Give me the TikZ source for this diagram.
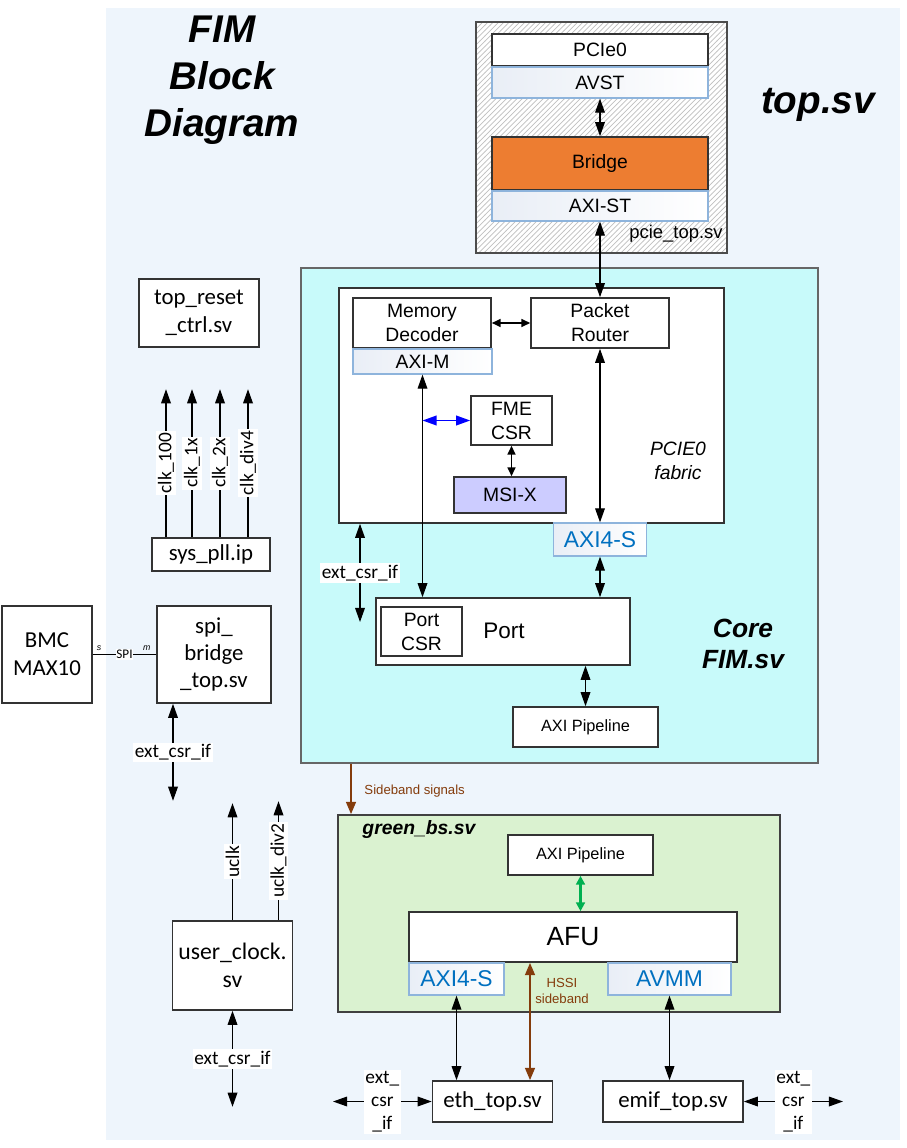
\documentclass[tikz,border=0pt]{standalone}
\usepackage{fontspec}
\setmainfont{Liberation Sans}
\newfontfamily\calf{Carlito}
\usepackage{xcolor}
\usetikzlibrary{arrows.meta,patterns}

\definecolor{bgblue}{HTML}{EEF5FC}
\definecolor{corecyan}{HTML}{C8FAFA}
\definecolor{bsgreen}{HTML}{DAF2D0}
\definecolor{bridgeorange}{HTML}{ED7D31}
\definecolor{msilav}{HTML}{CCCCFF}
\definecolor{ifedge}{HTML}{8EB4DC}
\definecolor{ifshade}{HTML}{E9EEF6}
\definecolor{ifblue}{HTML}{0070C0}
\definecolor{sbbrown}{HTML}{843C0C}
\definecolor{afugreen}{HTML}{00B050}

\newcommand{\fs}[2]{\fontsize{#1}{#2}\selectfont}

\tikzset{
  sz/.style 2 args={minimum width=#1*0.02cm, minimum height=#2*0.02cm},
  blk/.style={draw=black!80, line width=0.9pt, fill=white, inner sep=0pt, align=center, font=\fs{11}{13.6}},
  cblk/.style={blk, font=\calf\fs{13}{16}},
  ifbox/.style={draw=ifedge, line width=0.7pt, left color=ifshade, right color=white, inner sep=0pt, font=\fs{11}{13}},
  ifbig/.style={ifbox, text=ifblue, font=\fs{13}{15}},
  hatch/.style={draw=black!70, line width=0.9pt, preaction={fill=white}, pattern=north east lines, pattern color=black!25, inner sep=0pt},
  ttl/.style={align=center, font=\bfseries\itshape\fs{22}{26.6}},
  lbl/.style={fill=white, inner sep=1pt, font=\calf\fs{11}{13}},
  clk/.style={lbl, rotate=90},
  sb/.style={draw=sbbrown, line width=1.3pt, >={Triangle[length=7pt,width=5.5pt]}},
  sbtxt/.style={text=sbbrown, font=\fs{7.5}{9.6}, align=center}
}

\begin{document}
\begin{tikzpicture}[x=0.02cm, y=-0.02cm, >={Triangle[length=8pt,width=5.5pt]}, line width=0.7pt]
\useasboundingbox (0,0) rectangle (906,1148);
\fill[bgblue] (106,8) rectangle (900,1140);

\node[ttl] (title) at (222,80) {FIM\\Block\\Diagram};
\node[ttl] (topsv) at (818,105) {top.sv};

\node[hatch, sz={251}{231}] (pcietop) at (601.5,137.5) {};
\node[font=\fs{10.5}{12}] (pcietoplbl) at (676,234) {pcie\_top.sv};
\node[blk, sz={216}{32}] (pcie0) at (600,50) {PCIe0};
\node[ifbox, sz={216}{31}] (avst) at (600,82.5) {AVST};
\node[blk, fill=bridgeorange, sz={216}{53}] (bridge) at (600,163.5) {Bridge};
\node[ifbox, sz={216}{30}] (axist) at (600,206) {AXI-ST};

\node[draw=black!60, line width=0.9pt, fill=corecyan, sz={517}{495}] (core) at (559.5,515.5) {};
\node[blk, sz={385}{235}] (fabric) at (531.5,405.5) {};
\node[blk, sz={138}{50}] (memdec) at (422,323) {Memory\\Decoder};
\node[ifbox, sz={139}{25}] (axim) at (422.5,361.5) {AXI-M};
\node[blk, sz={138}{50}] (router) at (600,323) {Packet\\Router};
\node[blk, sz={81}{49}] (fme) at (511.5,420.5) {FME\\CSR};
\node[blk, fill=msilav, sz={112}{36}] (msix) at (510,495) {MSI-X};
\node[align=center, font=\itshape\fs{11}{13.6}] (fabriclbl) at (678,461) {PCIE0\\fabric};
\node[ifbig, sz={93}{33}] (axi4s) at (600,539.5) {AXI4-S};
\node[blk, sz={254}{67}] (port) at (503,631.5) {};
\node[blk, sz={81}{49}] (portcsr) at (421.5,631.5) {Port\\CSR};
\node[font=\fs{12.8}{14}] (porttxt) at (504,631) {Port};
\node[blk, font=\fs{9.3}{11}, sz={145}{40}] (pipe1) at (585.5,727) {AXI Pipeline};
\node[align=center, font=\bfseries\itshape\fs{15}{18}] (corelbl) at (743,644) {Core\\FIM.sv};

\node[cblk, sz={120}{68}] (rst) at (199,313) {top\_reset\\\_ctrl.sv};
\node[cblk, sz={118}{33}] (pll) at (211,554.5) {sys\_pll.ip};
\node[cblk, sz={90}{97}] (bmc) at (47,654.5) {BMC\\MAX10};
\node[cblk, font=\calf\fs{13}{15.5}, sz={114}{97}] (spi) at (214,654.5) {spi\_\\bridge\\\_top.sv};
\node[cblk, font=\calf\fs{13.5}{16}, sz={120}{89}] (ucl) at (232.5,965.5) {user\_clock.\\sv};

\node[draw=black!75, line width=0.9pt, fill=bsgreen, sz={442}{197}] (green) at (559,913.5) {};
\node[anchor=west, font=\bfseries\itshape\fs{11}{13}] (greenlbl) at (356,829) {green\_bs.sv};
\node[blk, font=\fs{9.3}{11}, sz={145}{40}] (pipe2) at (580.5,855) {AXI Pipeline};
\node[blk, font=\fs{15}{17}, sz={328}{50}] (afu) at (573,937) {AFU};
\node[ifbig, sz={95}{32}] (axisg) at (456.5,979) {AXI4-S};
\node[ifbig, sz={123}{32}] (avmm) at (669.5,979) {AVMM};
\node[sbtxt] (hssilbl) at (562,991) {HSSI\\sideband};

\node[cblk, sz={120}{41}] (eth) at (492.5,1101.5) {eth\_top.sv};
\node[cblk, sz={140}{41}] (emif) at (673,1101.5) {emif\_top.sv};

\coordinate (csrport) at (360,622);
\coordinate (sbx) at (351,790);
\coordinate (hssix) at (530,1040);
\coordinate (ethx) at (333,1101.5);
\coordinate (emifx) at (843,1101.5);

\draw[<->] (avst) -- (bridge);
\draw[<->] (axist) -- (router);
\draw[<->, >={Triangle[length=5pt,width=4.5pt]}, line width=1pt] (memdec) -- (router);
\draw[<->] (axim.south) -- (axim.south |- port.north);
\draw[<->, blue, line width=0.9pt] (axim.south |- fme.west) -- (fme.west);
\draw[<->, >={Triangle[length=5pt,width=4.5pt]}, line width=1pt] (fme.south) -- (fme.south |- msix.north);
\draw[<->] (router) -- (axi4s);
\draw[<->] (axi4s.south) -- (axi4s.south |- port.north);
\draw[<->] (pipe1.north |- port.south) -- (pipe1.north);
\draw[<->] (csrport |- fabric.south) -- (csrport) node[midway, lbl] {ext\_csr\_if};

\foreach \dx/\name in {-45/clk\_100, -19/clk\_1x, 9/clk\_2x, 37/clk\_div4}
  \draw[->] ([xshift=\dx*0.02cm]pll.north) -- ++(0,-148) node[midway, clk] {\name};

\draw (bmc) -- (spi) node[midway, fill=white, inner sep=0.5pt, font=\calf\fs{7.5}{9}] {SPI}
  node[pos=0.1, above, inner sep=2pt, font=\itshape\fs{5}{6}] {s}
  node[pos=0.85, above, inner sep=2pt, font=\itshape\fs{5}{6}] {m};
\draw[<->] ([xshift=-41*0.02cm]spi.south) -- ++(0,97) node[midway, lbl] {ext\_csr\_if};

\draw[->] (ucl.north) -- ++(0,-117) node[midway, clk] {uclk};
\draw[->] ([xshift=46*0.02cm]ucl.north) -- ++(0,-119) node[midway, clk] {uclk\_div2};
\draw[<->] (ucl.south) -- ++(0,96) node[midway, lbl] {ext\_csr\_if};

\draw[sb, ->] (core.south -| sbx) -- (green.north -| sbx);
\node[sbtxt, anchor=west] (sblbl) at (358,791) {Sideband signals};
\draw[<->, draw=afugreen, line width=1.2pt, >={Triangle[length=5pt,width=5pt]}] (pipe2.south) -- (pipe2.south |- afu.north);

\draw[<->] (axisg.south) -- (axisg.south |- eth.north);
\draw[sb, <->] (afu.south -| hssix) -- (eth.north -| hssix);
\draw[<->] (avmm.south) -- (avmm.south |- emif.north);

\draw[<->] (ethx) -- (eth.west) node[midway, lbl, align=center] {ext\_\\csr\\\_if};
\draw[<->] (emif.east) -- (emifx) node[midway, lbl, align=center] {ext\_\\csr\\\_if};
\end{tikzpicture}
\end{document}
